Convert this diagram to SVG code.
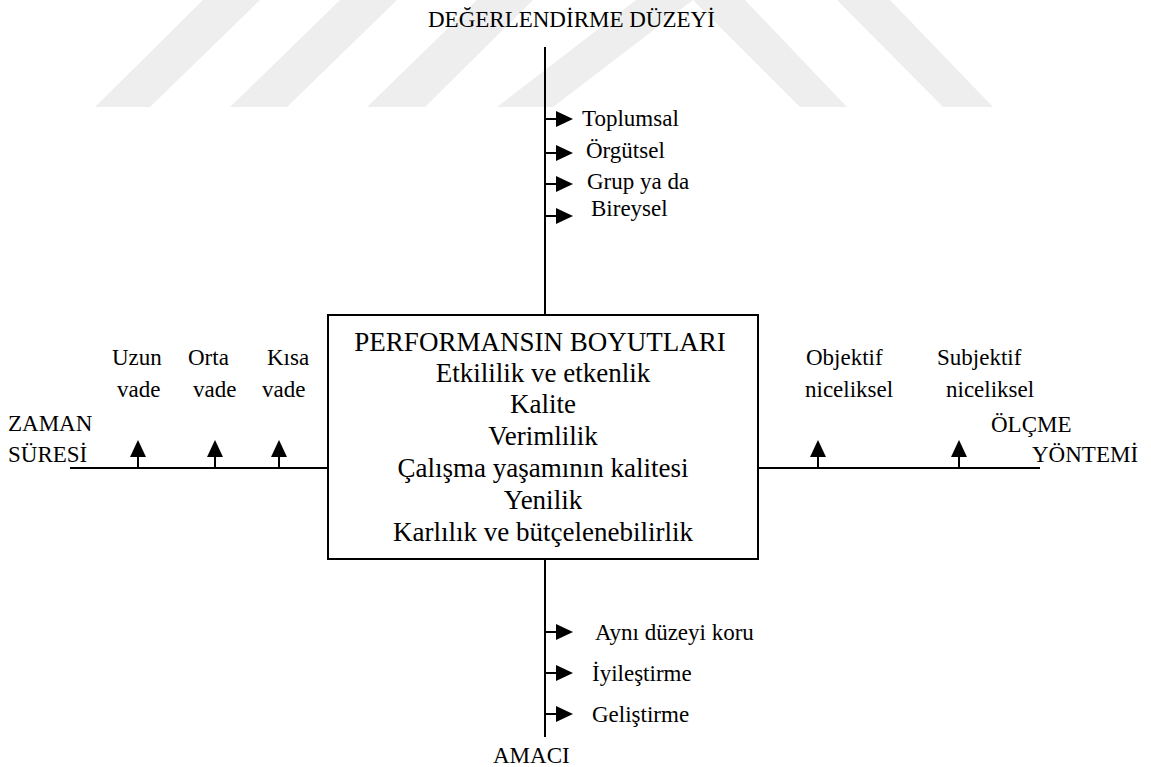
<svg xmlns="http://www.w3.org/2000/svg" width="1151" height="767" viewBox="0 0 1151 767">
<defs>
<style>
.t{font-family:"Liberation Serif","Times New Roman",serif;font-size:23px;fill:#000}
.b{font-family:"Liberation Serif","Times New Roman",serif;font-size:27px;fill:#000;text-anchor:middle}
.ln{stroke:#000;stroke-width:2;fill:none}
.wm{fill:#eeeeee}
</style>
<marker id="ah" markerUnits="userSpaceOnUse" markerWidth="17" markerHeight="16" refX="0" refY="8" orient="auto" overflow="visible">
<path d="M0,0 L17,8 L0,16 z" fill="#000"/>
</marker>
</defs>
<rect width="1151" height="767" fill="#fff"/>
<g id="watermark">
<polygon class="wm" points="203,0 260,0 150,107 95,107"/>
<polygon class="wm" points="340,0 397,0 287,107 230,107"/>
<polygon class="wm" points="477,0 533,0 425,107 367,107"/>
<polygon class="wm" points="636,0 693,0 553,107 497,107"/>
<polygon class="wm" points="693,0 745,0 847,107 800,107"/>
<polygon class="wm" points="837,0 890,0 993,107 943,107"/>
</g>
<g id="connectors">
<line class="ln" x1="545" y1="47" x2="545" y2="315"/>
<line class="ln" x1="545" y1="559" x2="545" y2="737"/>
<line class="ln" x1="70" y1="468" x2="328" y2="468"/>
<line class="ln" x1="758" y1="468" x2="1040" y2="468"/>
<line class="ln" x1="545" y1="119" x2="556" y2="119" marker-end="url(#ah)"/>
<line class="ln" x1="545" y1="153" x2="556" y2="153" marker-end="url(#ah)"/>
<line class="ln" x1="545" y1="184" x2="556" y2="184" marker-end="url(#ah)"/>
<line class="ln" x1="545" y1="216" x2="556" y2="216" marker-end="url(#ah)"/>
<line class="ln" x1="545" y1="632" x2="556" y2="632" marker-end="url(#ah)"/>
<line class="ln" x1="545" y1="673" x2="556" y2="673" marker-end="url(#ah)"/>
<line class="ln" x1="545" y1="714" x2="556" y2="714" marker-end="url(#ah)"/>
<line class="ln" x1="138" y1="468" x2="138" y2="457" marker-end="url(#ah)"/>
<line class="ln" x1="215" y1="468" x2="215" y2="457" marker-end="url(#ah)"/>
<line class="ln" x1="279" y1="468" x2="279" y2="457" marker-end="url(#ah)"/>
<line class="ln" x1="818" y1="468" x2="818" y2="457" marker-end="url(#ah)"/>
<line class="ln" x1="959" y1="468" x2="959" y2="457" marker-end="url(#ah)"/>
</g>
<g id="center">
<rect class="ln" x="328" y="315" width="430" height="244"/>
<text class="b" x="540" y="351">PERFORMANSIN BOYUTLARI</text>
<text class="b" x="543" y="382">Etkililik ve etkenlik</text>
<text class="b" x="543" y="413">Kalite</text>
<text class="b" x="543" y="445">Verimlilik</text>
<text class="b" x="543" y="477">Çalışma yaşamının kalitesi</text>
<text class="b" x="543" y="509">Yenilik</text>
<text class="b" x="543" y="541">Karlılık ve bütçelenebilirlik</text>
</g>
<g id="degerlendirme">
<text class="t" x="428" y="27">DEĞERLENDİRME DÜZEYİ</text>
<text class="t" x="582" y="126">Toplumsal</text>
<text class="t" x="586" y="158">Örgütsel</text>
<text class="t" x="587" y="189">Grup ya da</text>
<text class="t" x="591" y="216">Bireysel</text>
</g>
<g id="zaman">
<text class="t" x="8" y="431">ZAMAN</text>
<text class="t" x="8" y="462">SÜRESİ</text>
<text class="t" x="112" y="365">Uzun</text>
<text class="t" x="117" y="397">vade</text>
<text class="t" x="188" y="365">Orta</text>
<text class="t" x="193" y="397">vade</text>
<text class="t" x="267" y="365">Kısa</text>
<text class="t" x="262" y="397">vade</text>
</g>
<g id="olcme">
<text class="t" x="806" y="365">Objektif</text>
<text class="t" x="805" y="397">niceliksel</text>
<text class="t" x="937" y="365">Subjektif</text>
<text class="t" x="946" y="397">niceliksel</text>
<text class="t" x="991" y="432">ÖLÇME</text>
<text class="t" x="1032" y="462">YÖNTEMİ</text>
</g>
<g id="amaci">
<text class="t" x="595" y="640">Aynı düzeyi koru</text>
<text class="t" x="592" y="681">İyileştirme</text>
<text class="t" x="592" y="722">Geliştirme</text>
<text class="t" x="493" y="763">AMACI</text>
</g>
</svg>
